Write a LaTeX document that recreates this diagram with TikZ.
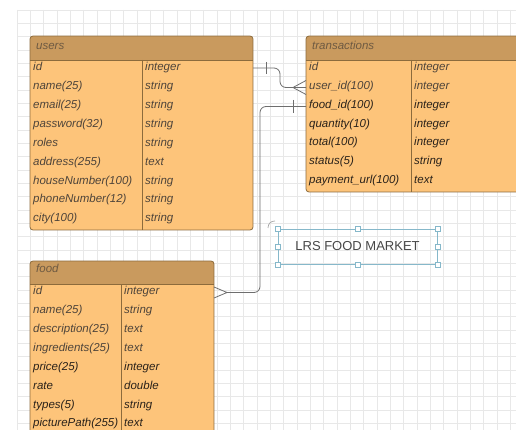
\documentclass[tikz,border=0pt]{standalone}
\usepackage{fontspec}
\setmainfont{Liberation Sans}
\definecolor{hdr}{HTML}{C99A5E}
\definecolor{bodyc}{HTML}{FDC47A}
\definecolor{edgec}{HTML}{8C6B3C}
\definecolor{txtl}{HTML}{4E443A}
\definecolor{txtd}{HTML}{2A221A}
\definecolor{hdrtxt}{HTML}{6E5A42}
\definecolor{gridc}{HTML}{E8E8E8}
\definecolor{conn}{HTML}{6E6E6E}
\definecolor{sel}{HTML}{86B8CA}
\tikzset{
  tblbody/.style={fill=bodyc},
  tblhead/.style={fill=hdr},
  tbledge/.style={draw=edgec, line width=0.8pt},
  cell/.style={anchor=mid west, inner sep=0pt, font=\fontsize{11.5}{13}\selectfont\itshape, text=txtl},
  celld/.style={cell, text=txtd},
  htitle/.style={anchor=mid west, inner sep=0pt, font=\fontsize{11.5}{13}\selectfont\itshape, text=hdrtxt},
  connline/.style={draw=conn, line width=0.8pt, rounded corners=6pt},
  crow/.style={draw=conn, line width=0.8pt},
  handle/.style={draw=sel, fill=white, line width=0.6pt, minimum size=5pt, inner sep=0pt, rectangle},
}
\newcommand{\erdbox}[6]{% x1 y1 x2 y2 headerbottom divider
  \begin{scope}
    \clip[rounded corners=3pt] (#1,#2) rectangle (#3,#4);
    \fill[tblbody] (#1,#2) rectangle (#3,#4);
    \fill[tblhead] (#1,#2) rectangle (#3,#5);
  \end{scope}
  \draw[tbledge] (#1,#5) -- (#3,#5);
  \draw[tbledge] (#6,#5) -- (#6,#4);
  \draw[tbledge, rounded corners=3pt] (#1,#2) rectangle (#3,#4);
}
\begin{document}
\begin{tikzpicture}[x=1pt, y=-1pt]
\useasboundingbox (0,0) rectangle (516,430);
\fill[white] (0,0) rectangle (516,430);
\begin{scope}
\clip (0,0) rectangle (516,430);
% grid
\foreach \i in {0,...,38} {
  \draw[gridc, line width=0.5pt] ({17+13.33*\i},10) -- ({17+13.33*\i},430);
}
\foreach \j in {0,...,32} {
  \draw[gridc, line width=0.5pt] (17,{10+13.33*\j}) -- (516,{10+13.33*\j});
}

% ---------- users ----------
\erdbox{30}{36}{253}{230}{60}{142}
\node[htitle] (users) at (36,47) {users};
\foreach \n/\t [count=\k from 0] in {id/integer, name(25)/string, email(25)/string, password(32)/string, roles/string, address(255)/text, houseNumber(100)/string, phoneNumber(12)/string, city(100)/string} {
  \node[cell] (u\k) at (33,{68+18.9*\k}) {\n};
  \node[cell] (ut\k) at (145,{68+18.9*\k}) {\t};
}
\coordinate (usersid) at (253,68);

% ---------- transactions ----------
\erdbox{306}{36}{524}{192}{60}{411}
\node[htitle] (transactions) at (312,47) {transactions};
\foreach \n/\t [count=\k from 0] in {id/integer, user\_id(100)/integer} {
  \node[cell] (tr\k) at (309,{67.7+18.9*\k}) {\n};
  \node[cell] (trt\k) at (414,{67.7+18.9*\k}) {\t};
}
\foreach \n/\t [count=\k from 2] in {food\_id(100)/integer, quantity(10)/integer, total(100)/integer, status(5)/string, payment\_url(100)/text} {
  \node[celld] (tr\k) at (309,{67.7+18.9*\k}) {\n};
  \node[celld] (trt\k) at (414,{67.7+18.9*\k}) {\t};
}
\coordinate (truserid) at (306,87.5);
\coordinate (trfoodid) at (306,106.5);

% ---------- food ----------
\erdbox{30}{261}{214}{445}{284}{121}
\node[htitle] (food) at (36,270) {food};
\foreach \n/\t [count=\k from 0] in {id/integer, name(25)/string, description(25)/text, ingredients(25)/text} {
  \node[cell] (f\k) at (33,{292+18.9*\k}) {\n};
  \node[cell] (ft\k) at (124,{292+18.9*\k}) {\t};
}
\foreach \n/\t [count=\k from 4] in {price(25)/integer, rate/double, types(5)/string, picturePath(255)/text} {
  \node[celld] (f\k) at (33,{292+18.9*\k}) {\n};
  \node[celld] (ft\k) at (124,{292+18.9*\k}) {\t};
}
\coordinate (foodid) at (214,292.5);

% ---------- connectors ----------
\coordinate (cf1) at (293,87.5);
\draw[connline] (usersid) -- (280,68) -- (280,87.5) -- (cf1);
\draw[crow] (cf1) -- (306,80.5) (cf1) -- (truserid) (cf1) -- (306,94.5);
\draw[crow] (266,62) -- (266,74);

\coordinate (cf2) at (227,292.5);
\draw[connline] (trfoodid) -- (260,106.5) -- (260,292.5) -- (cf2);
\draw[crow] (cf2) -- (214,287) (cf2) -- (214,298);
\draw[crow] (293,100) -- (293,113);

% ---------- title box ----------
\node[draw=sel, line width=0.7pt, minimum width=159pt, minimum height=35pt, inner sep=0pt,
      font=\fontsize{13}{15}\selectfont, text=black!72] (title) at (357.5,246.5) {LRS FOOD MARKET};
\foreach \a in {north west, north, north east, west, east, south west, south, south east}
  \node[handle] at (title.\a) {};
\draw[black!35, line width=0.7pt] (268,228) .. controls (268,223.5) and (271,221) .. (275,221);
\end{scope}
\end{tikzpicture}
\end{document}
